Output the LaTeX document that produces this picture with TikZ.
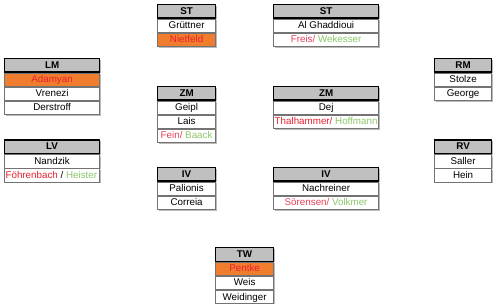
\documentclass[tikz,border=0pt]{standalone}
\usepackage{fontspec}
\setmainfont{Liberation Sans}
\usetikzlibrary{shadows}
\definecolor{hgray}{HTML}{C0C0C0}
\definecolor{porange}{HTML}{F07D2E}
\definecolor{pred}{HTML}{E8202E}
\definecolor{ppink}{HTML}{E8405A}
\definecolor{pgreen}{HTML}{8DC66B}
\tikzset{
  box/.style={minimum height=13.5pt, inner sep=0pt, font=\fontsize{9.8}{11}\selectfont, text depth=0.1em},
  hdr/.style={box, draw=black, line width=1.2pt, fill=hgray, font=\fontsize{9.8}{11}\selectfont\bfseries,
     drop shadow={shadow xshift=1.2pt, shadow yshift=-1.2pt, fill=black!45, opacity=0.6}},
  prow/.style={box, draw=black!55, line width=0.6pt, fill=white,
     drop shadow={shadow xshift=1.2pt, shadow yshift=-1.2pt, fill=black!45, opacity=0.6}},
  orow/.style={prow, fill=porange, text=pred},
}
\newcommand\phead[5]{\node[hdr, minimum width=#4pt, anchor=north west] (#1-0) at (#2,#3) {#5};}
\newcommand\prw[5]{\node[#3, minimum width=#4pt, anchor=north] (#1-#2) at (#1-\the\numexpr#2-1\relax.south) {\makebox[\dimexpr#4pt-2pt\relax][c]{#5}};}
\begin{document}
\begin{tikzpicture}[x=1pt,y=-1pt]
\useasboundingbox (0,0) rectangle (500,304);
% ST left
\phead{sta}{157}{4}{58}{ST}
\prw{sta}{1}{prow}{58}{Grüttner}
\prw{sta}{2}{orow}{58}{Nietfeld}
% ST right
\phead{stb}{273}{4}{105}{ST}
\prw{stb}{1}{prow}{105}{Al Ghaddioui}
\prw{stb}{2}{prow}{105}{\textcolor{ppink}{Freis/} \textcolor{pgreen}{Wekesser}}
% LM
\phead{lm}{4}{58}{95}{LM}
\prw{lm}{1}{orow}{95}{Adamyan}
\prw{lm}{2}{prow}{95}{Vrenezi}
\prw{lm}{3}{prow}{95}{Derstroff}
% ZM left
\phead{zma}{157}{86}{58}{ZM}
\prw{zma}{1}{prow}{58}{Geipl}
\prw{zma}{2}{prow}{58}{Lais}
\prw{zma}{3}{prow}{58}{\textcolor{ppink}{Fein/} \textcolor{pgreen}{Baack}}
% ZM right
\phead{zmb}{273}{86}{105}{ZM}
\prw{zmb}{1}{prow}{105}{Dej}
\prw{zmb}{2}{prow}{105}{\textcolor{pred}{Thalhammer/} \textcolor{pgreen}{Hoffmann}}
% RM
\phead{rm}{434}{58}{57}{RM}
\prw{rm}{1}{prow}{57}{Stolze}
\prw{rm}{2}{prow}{57}{George}
% LV
\phead{lv}{4}{139.5}{95}{LV}
\prw{lv}{1}{prow}{95}{Nandzik}
\prw{lv}{2}{prow}{95}{\makebox[93pt][l]{\textcolor{pred}{Föhrenbach} / \textcolor{pgreen}{Heister}}}
% RV
\phead{rv}{434}{139.5}{57}{RV}
\prw{rv}{1}{prow}{57}{Saller}
\prw{rv}{2}{prow}{57}{Hein}
% IV left
\phead{iva}{157}{167}{58}{IV}
\prw{iva}{1}{prow}{58}{Palionis}
\prw{iva}{2}{prow}{58}{Correia}
% IV right
\phead{ivb}{273}{167}{105}{IV}
\prw{ivb}{1}{prow}{105}{Nachreiner}
\prw{ivb}{2}{prow}{105}{\textcolor{ppink}{Sörensen/} \textcolor{pgreen}{Volkmer}}
% TW
\phead{tw}{215}{247}{58}{TW}
\prw{tw}{1}{orow}{58}{Pentke}
\prw{tw}{2}{prow}{58}{Weis}
\prw{tw}{3}{prow}{58}{Weidinger}
\end{tikzpicture}
\end{document}
